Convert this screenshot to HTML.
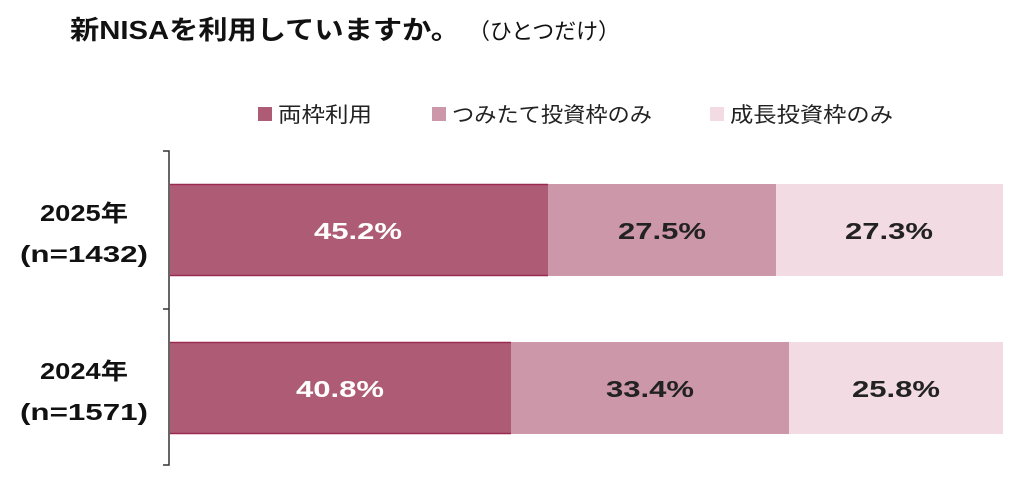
<!DOCTYPE html>
<html><head><meta charset="utf-8"><style>
body{margin:0;width:1024px;height:483px;background:#fff;overflow:hidden;font-family:"Liberation Sans","Noto Sans CJK JP",sans-serif;}
</style></head><body>
<svg width="1024" height="483" xmlns="http://www.w3.org/2000/svg" font-family="Liberation Sans, Noto Sans CJK JP, sans-serif">
<text x="70" y="39" font-size="26" font-weight="bold" fill="#111" textLength="390" lengthAdjust="spacingAndGlyphs">新NISAを利用していますか。</text>
<text x="468" y="39" font-size="22" fill="#111" textLength="152" lengthAdjust="spacingAndGlyphs">（ひとつだけ）</text>
<rect x="258" y="107" width="14" height="14" fill="#ae5c75"/>
<text x="278" y="122" font-size="21" fill="#222" textLength="94" lengthAdjust="spacingAndGlyphs">両枠利用</text>
<rect x="432" y="107" width="14" height="14" fill="#cc97a9"/>
<text x="452" y="122" font-size="21" fill="#222" textLength="200" lengthAdjust="spacingAndGlyphs">つみたて投資枠のみ</text>
<rect x="710" y="107" width="14" height="14" fill="#f2dbe2"/>
<text x="730" y="122" font-size="21" fill="#222" textLength="163" lengthAdjust="spacingAndGlyphs">成長投資枠のみ</text>
<path d="M163 151H169V465H163M163 309H169" stroke="#333" stroke-width="1.5" fill="none"/>
<rect x="170" y="184" width="378" height="92" fill="#ae5c75"/>
<path d="M170 184.5H548M170 275.5H548" stroke="#9a2a52" stroke-width="1.5"/>
<rect x="548" y="184" width="228" height="92" fill="#cc97a9"/>
<rect x="776" y="184" width="227" height="92" fill="#f2dbe2"/>
<rect x="170" y="342" width="341" height="92" fill="#ae5c75"/>
<path d="M170 342.5H511M170 433.5H511" stroke="#9a2a52" stroke-width="1.5"/>
<rect x="511" y="342" width="278" height="92" fill="#cc97a9"/>
<rect x="789" y="342" width="214" height="92" fill="#f2dbe2"/>
<g font-size="23" font-weight="bold" text-anchor="middle">
<text x="358" y="239" fill="#fff" textLength="88" lengthAdjust="spacingAndGlyphs">45.2%</text>
<text x="662" y="239" fill="#222" textLength="88" lengthAdjust="spacingAndGlyphs">27.5%</text>
<text x="889" y="239" fill="#222" textLength="88" lengthAdjust="spacingAndGlyphs">27.3%</text>
<text x="340" y="397" fill="#fff" textLength="88" lengthAdjust="spacingAndGlyphs">40.8%</text>
<text x="650" y="397" fill="#222" textLength="88" lengthAdjust="spacingAndGlyphs">33.4%</text>
<text x="896" y="397" fill="#222" textLength="88" lengthAdjust="spacingAndGlyphs">25.8%</text>
<text x="84" y="221" fill="#111" textLength="88" lengthAdjust="spacingAndGlyphs">2025年</text>
<text x="84" y="262" fill="#111" textLength="128" lengthAdjust="spacingAndGlyphs">(n=1432)</text>
<text x="84" y="379" fill="#111" textLength="88" lengthAdjust="spacingAndGlyphs">2024年</text>
<text x="84" y="420" fill="#111" textLength="128" lengthAdjust="spacingAndGlyphs">(n=1571)</text>
</g>
</svg>
</body></html>
